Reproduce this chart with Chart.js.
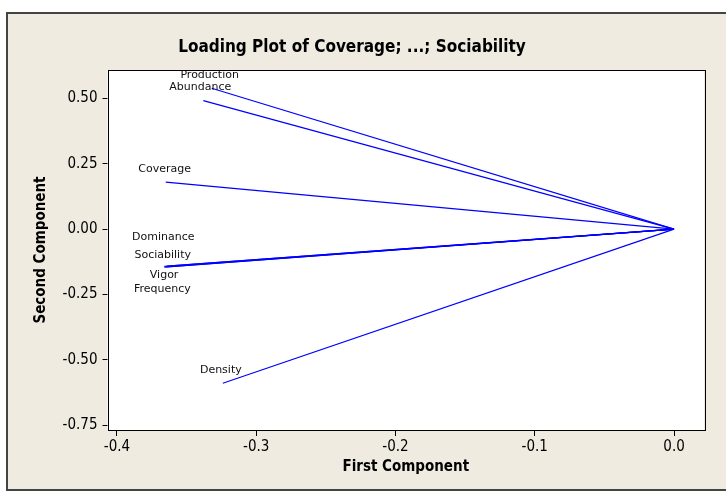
<!DOCTYPE html>
<html>
<head>
<meta charset="utf-8">
<title>Loading Plot</title>
<script src="https://cdn.jsdelivr.net/npm/chart.js@4.4.1/dist/chart.umd.min.js"></script>
<style>
    html, body { margin: 0; padding: 0; background: #fff; }
    #frame {
        position: absolute; left: 6px; top: 12px; width: 730px; height: 475px;
        background: #EFEBE0; border-left: 2px solid #444; border-top: 2px solid #444; border-bottom: 2px solid #444;
    }
    #wrap { position: absolute; left: 0; top: 0; width: 726px; height: 491px; }
</style>
</head>
<body>
<div id="frame"></div>
<div id="wrap"><canvas id="loadingChart"></canvas></div>
<script>
// Loadings
const variables = ['Coverage', 'Abundance', 'Production', 'Density', 'Dominance', 'Sociability', 'Vigor', 'Frequency'];
const firstComponent = [-0.365, -0.338, -0.332, -0.324, -0.366, -0.365, -0.364, -0.366];
const secondComponent = [0.180, 0.492, 0.539, -0.590, -0.143, -0.145, -0.142, -0.146];
const xTicks = [-0.4, -0.3, -0.2, -0.1, 0.0];
const yTicks = [0.50, 0.25, 0.00, -0.25, -0.50, -0.75];

// label placement next to each vector end (pixels)
const labelShift = [[-1, -13], [-3, -13], [-2, -13], [-2, -13], [-1, -29], [-3, -12], [-3, 9], [-2, 22]];

const FONT = "'DejaVu Sans Condensed', 'DejaVu Sans', sans-serif";

const datasets = variables.map(function (name, i) {
    return {
        label: name,
        data: [{ x: 0, y: 0 }, { x: firstComponent[i], y: secondComponent[i] }],
        showLine: true,
        borderColor: '#0000FF',
        borderWidth: 1.2,
        pointRadius: 0,
        fill: false
    };
});

// white plot area with black frame
const plotFrame = {
    id: 'plotFrame',
    beforeDatasetsDraw(chart) {
        const a = chart.chartArea, ctx = chart.ctx;
        ctx.save();
        ctx.fillStyle = '#fff';
        ctx.fillRect(a.left, a.top, a.right - a.left, a.bottom - a.top);
        ctx.restore();
    },
    afterDraw(chart) {
        const a = chart.chartArea, ctx = chart.ctx;
        ctx.save();
        ctx.strokeStyle = '#000';
        ctx.lineWidth = 1;
        ctx.strokeRect(Math.round(a.left) + 0.5, Math.round(a.top) + 0.5,
            Math.round(a.right - a.left), Math.round(a.bottom - a.top));
        ctx.restore();
    }
};

// variable names at the vector tips
const tipLabels = {
    id: 'tipLabels',
    afterDatasetsDraw(chart) {
        const ctx = chart.ctx;
        const xs = chart.scales.x, ys = chart.scales.y;
        ctx.save();
        ctx.font = "11px 'DejaVu Sans', sans-serif";
        ctx.fillStyle = '#111';
        ctx.textAlign = 'center';
        ctx.textBaseline = 'middle';
        variables.forEach(function (name, i) {
            const px = xs.getPixelForValue(firstComponent[i]) + labelShift[i][0];
            const py = ys.getPixelForValue(secondComponent[i]) + labelShift[i][1];
            ctx.fillText(name, px, py);
        });
        ctx.restore();
    }
};

const ctx = document.getElementById('loadingChart').getContext('2d');
new Chart(ctx, {
    type: 'scatter',
    data: { datasets: datasets },
    options: {
        responsive: true,
        maintainAspectRatio: false,
        animation: false,
        layout: { padding: { left: 0, top: 0, right: 22, bottom: 0 } },
        plugins: {
            legend: { display: false },
            tooltip: { enabled: false },
            title: {
                display: true,
                text: 'Loading Plot of Coverage; ...; Sociability',
                color: '#000',
                font: { family: FONT, size: 17, weight: 'bold', lineHeight: 1.2 },
                padding: { top: 37, bottom: 12.6 }
            }
        },
        scales: {
            x: {
                type: 'linear',
                min: -0.4068,
                max: 0.0215,
                afterBuildTicks: function (s) { s.ticks = xTicks.map(v => ({ value: v })); },
                afterFit: function (s) { s.height = 61; },
                ticks: {
                    color: '#000',
                    padding: 2,
                    font: { family: FONT, size: 15 },
                    callback: v => v.toFixed(1)
                },
                grid: { drawOnChartArea: false, drawTicks: true, tickLength: 6, color: '#000' },
                border: { display: false },
                title: {
                    display: true,
                    text: 'First Component',
                    color: '#000',
                    font: { family: FONT, size: 15, weight: 'bold', lineHeight: 1.2 },
                    padding: { top: 0, bottom: 15 }
                }
            },
            y: {
                type: 'linear',
                min: -0.769,
                max: 0.609,
                afterBuildTicks: function (s) { s.ticks = yTicks.map(v => ({ value: v })); },
                afterFit: function (s) { s.width = 107.5; },
                ticks: {
                    color: '#000',
                    padding: 5,
                    font: { family: FONT, size: 15 },
                    callback: v => v.toFixed(2)
                },
                grid: { drawOnChartArea: false, drawTicks: true, tickLength: 5, color: '#000' },
                border: { display: false },
                title: {
                    display: true,
                    text: 'Second Component',
                    color: '#000',
                    font: { family: FONT, size: 15, weight: 'bold', lineHeight: 1.2 },
                    padding: { top: 32, bottom: 0 }
                }
            }
        }
    },
    plugins: [plotFrame, tipLabels]
});
</script>
</body>
</html>
